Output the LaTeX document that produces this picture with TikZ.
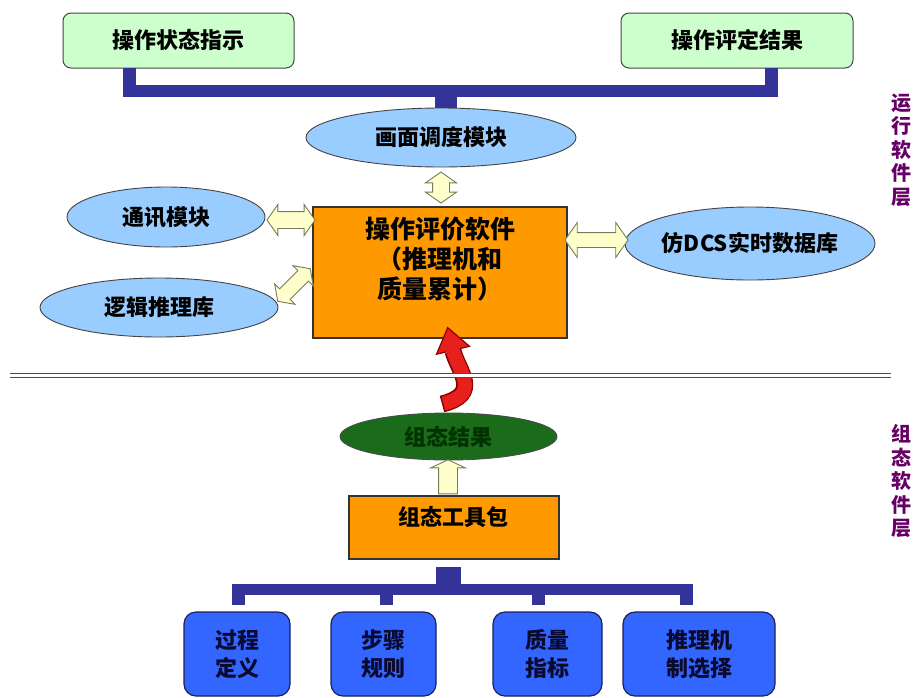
\documentclass[tikz,border=0pt]{standalone}
\usepackage{fontspec}
\setmainfont{Noto Sans CJK SC}
\usetikzlibrary{shapes.geometric,shapes.arrows}
\definecolor{boxgreen}{HTML}{CCFFCC}
\definecolor{edgegray}{HTML}{444444}
\definecolor{navy}{HTML}{333399}
\definecolor{skyblue}{HTML}{99CCFF}
\definecolor{orangefill}{HTML}{FF9900}
\definecolor{pale}{HTML}{FFFFCC}
\definecolor{arrowedge}{HTML}{7A7A5A}
\definecolor{darkgreen}{HTML}{1A6B1A}
\definecolor{royal}{HTML}{3366FF}
\definecolor{redfill}{HTML}{E8201C}
\definecolor{redline}{HTML}{8B0000}
\definecolor{plum}{HTML}{660066}
\definecolor{inktext}{HTML}{0A0A30}
\begin{document}
\begin{tikzpicture}[x=1pt,y=-1pt,
  cjk/.style={font=\fontsize{22}{28}\selectfont\bfseries},
  greenbox/.style={draw=edgegray, line width=1pt, fill=boxgreen, rounded corners=8pt, cjk},
  oval/.style={ellipse, draw=edgegray, line width=0.9pt, fill=skyblue, inner sep=0pt, cjk},
  orangebox/.style={draw=black!80, line width=1.2pt, fill=orangefill},
  bluebox/.style={draw=navy!60!black, line width=1.2pt, fill=royal, rounded corners=12pt, cjk, align=center, text=inktext},
  dblarrow/.style={double arrow, draw=arrowedge, fill=pale, line width=0.9pt, inner xsep=0pt, inner ysep=8pt, double arrow head extend=7pt, double arrow tip angle=110},
  bar/.style={fill=navy},
  side/.style={text=plum, font=\fontsize{20}{23.5}\selectfont\bfseries, align=center},
]
\useasboundingbox (0,0) rectangle (915,697);
\fill[white] (0,0) rectangle (915,697);

% top result boxes
\node[greenbox, minimum width=231pt, minimum height=55pt] (s1) at (178.5,40.5) {操作状态指示};
\node[greenbox, minimum width=232pt, minimum height=55pt] (s2) at (737,40.5) {操作评定结果};

% top bracket
\fill[bar] (123,68) rectangle (136,97);
\fill[bar] (123,85) rectangle (778,97);
\fill[bar] (765,68) rectangle (778,97);
\fill[bar] (435,97) rectangle (457,111);

% run-time layer
\node[oval, minimum width=270pt, minimum height=59pt] (m1) at (441,137.5) {画面调度模块};
\node[orangebox, minimum width=254pt, minimum height=131pt] (eval) at (440,272.5) {};
\node[font=\fontsize{25}{30}\selectfont\bfseries, align=center] (evaltext) at (440,259) {操作评价软件\\（推理机和\\质量累计）};
\node[oval, minimum width=198pt, minimum height=60pt] (comm) at (166,217) {通讯模块};
\node[oval, minimum width=238pt, minimum height=59pt] (logic) at (159,307.5) {逻辑推理库};
\node[oval, minimum width=250pt, minimum height=73pt] (dcs) at (750,243.5) {仿DCS实时数据库};

\node[dblarrow, minimum height=31pt, minimum width=30pt, rotate=90] (a1) at (441,187.5) {};
\node[dblarrow, minimum height=48pt, minimum width=30pt] (a2) at (291,220) {};
\node[dblarrow, minimum height=63pt, minimum width=34pt, inner ysep=7pt, double arrow head extend=10pt] (a3) at (596.5,240) {};
\node[dblarrow, minimum height=46pt, minimum width=28pt, inner ysep=7pt] (a4) at (294,285) [rotate=45] {};

% red curved arrow
\coordinate (rtail) at (442,404);
\coordinate (rneck) at (453,351);
\draw[redline, line width=17pt] (rtail) .. controls (482,394) and (458,371) .. (rneck);
\filldraw[fill=redfill, draw=redline, line width=1.2pt] (469.5,346.3) -- (447.7,327.7) -- (436.5,354.2) -- cycle;
\draw[redfill, line width=14pt, shorten >=-2.5pt, shorten <=1.5pt] (rtail) .. controls (482,394) and (458,371) .. (rneck);

% separator
\coordinate (sepL) at (10,375.5);
\coordinate (sepR) at (891,375.5);
\draw[draw=gray!60!black, line width=1.3pt, double=white, double distance=2.2pt] (sepL) -- (sepR);

% configuration layer
\node[ellipse, draw=black!70, line width=0.9pt, fill=darkgreen, minimum width=217pt, minimum height=47pt, inner sep=0pt, cjk, text=black!80!green] (res) at (448.5,436.5) {组态结果};
\node[single arrow, draw=arrowedge, fill=pale, line width=0.9pt, inner xsep=0pt, inner ysep=9pt, minimum height=34pt, minimum width=34pt, single arrow head extend=8pt, single arrow tip angle=130, rotate=90] (up) at (448,479) {};
\node[orangebox, minimum width=210pt, minimum height=63pt] (tool) at (454,527.5) {};
\node[cjk] (tooltext) at (453,517) {组态工具包};

% bottom bracket
\fill[bar] (436,567) rectangle (461,595);
\fill[bar] (232,584) rectangle (693,595);
\fill[bar] (232,595) rectangle (245,605);
\fill[bar] (380,595) rectangle (393,605);
\fill[bar] (532,595) rectangle (545,605);
\fill[bar] (680,595) rectangle (693,605);

\node[bluebox, minimum width=106pt, minimum height=84pt] (b1) at (237,654) {过程\\定义};
\node[bluebox, minimum width=105pt, minimum height=84pt] (b2) at (383.5,654) {步骤\\规则};
\node[bluebox, minimum width=109pt, minimum height=84pt] (b3) at (547.5,654) {质量\\指标};
\node[bluebox, minimum width=152pt, minimum height=84pt] (b4) at (699,654) {推理机\\制选择};

% side labels
\node[side] (run) at (901,150) {运\\行\\软\\件\\层};
\node[side] (cfg) at (901,481) {组\\态\\软\\件\\层};
\end{tikzpicture}
\end{document}
